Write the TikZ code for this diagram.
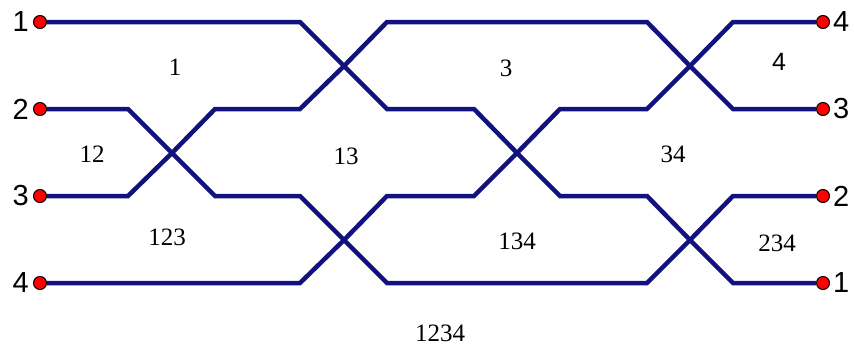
\documentclass[tikz,border=0pt]{standalone}
\usepackage{fontspec}
\setmainfont{Liberation Serif}
\newfontfamily\endfont{Liberation Sans}
\usetikzlibrary{positioning}
\definecolor{strandblue}{HTML}{12127E}
\definecolor{dotred}{HTML}{FF0000}
\tikzset{
  strand/.style={draw=strandblue,line width=4.5pt,line join=miter},
  enddot/.style={circle,draw=black,line width=1pt,fill=dotred,minimum size=13pt,inner sep=0pt},
  endlabel/.style={font=\endfont\fontsize{29}{31}\selectfont,inner sep=1pt},
  region/.style={font=\fontsize{25}{27}\selectfont,inner sep=0pt},
}

\begin{document}
\begin{tikzpicture}[x=1pt,y=-1pt]
\useasboundingbox (0,0) rectangle (854,348);
% end points
\foreach \i/\y in {1/22,2/109,3/196,4/283}{
  \node[enddot] (L\i) at (40,\y) {};
  \node[endlabel,left=3pt of L\i] (Ltxt\i) {\i};
}
\foreach \i/\y in {4/22,3/109,2/196,1/283}{
  \node[enddot] (R\i) at (823,\y) {};
  \node[endlabel,right=2pt of R\i] (Rtxt\i) {\i};
}
% crossings
\coordinate (xa) at (172,153);
\coordinate (xb) at (344,66);
\coordinate (xc) at (344,240);
\coordinate (xd) at (517,153);
\coordinate (xe) at (690,66);
\coordinate (xf) at (690,240);
% strands
\draw[strand] (L1) -- (300,22) -- (xb) -- (387,109) -- (474,109) -- (xd) -- (560,196) -- (647,196) -- (xf) -- (733,283) -- (R1);
\draw[strand] (L2) -- (128,109) -- (xa) -- (215,196) -- (300,196) -- (xc) -- (387,283) -- (647,283) -- (xf) -- (733,196) -- (R2);
\draw[strand] (L3) -- (128,196) -- (xa) -- (215,109) -- (300,109) -- (xb) -- (387,22) -- (647,22) -- (xe) -- (733,109) -- (R3);
\draw[strand] (L4) -- (300,283) -- (xc) -- (387,196) -- (474,196) -- (xd) -- (560,109) -- (647,109) -- (xe) -- (733,22) -- (R4);
% regions
\node[region] (r1) at (175,67) {1};
\node[region] (r3) at (506,68) {3};
\node[region,font=\endfont\fontsize{25}{27}\selectfont] (r4) at (779,62) {4};
\node[region] (r12) at (92,154) {12};
\node[region] (r13) at (346,156) {13};
\node[region] (r34) at (673,154) {34};
\node[region] (r123) at (167,237) {123};
\node[region] (r134) at (517,241) {134};
\node[region] (r234) at (777,243) {234};
\node[region] (r1234) at (440,333) {1234};
\end{tikzpicture}
\end{document}
